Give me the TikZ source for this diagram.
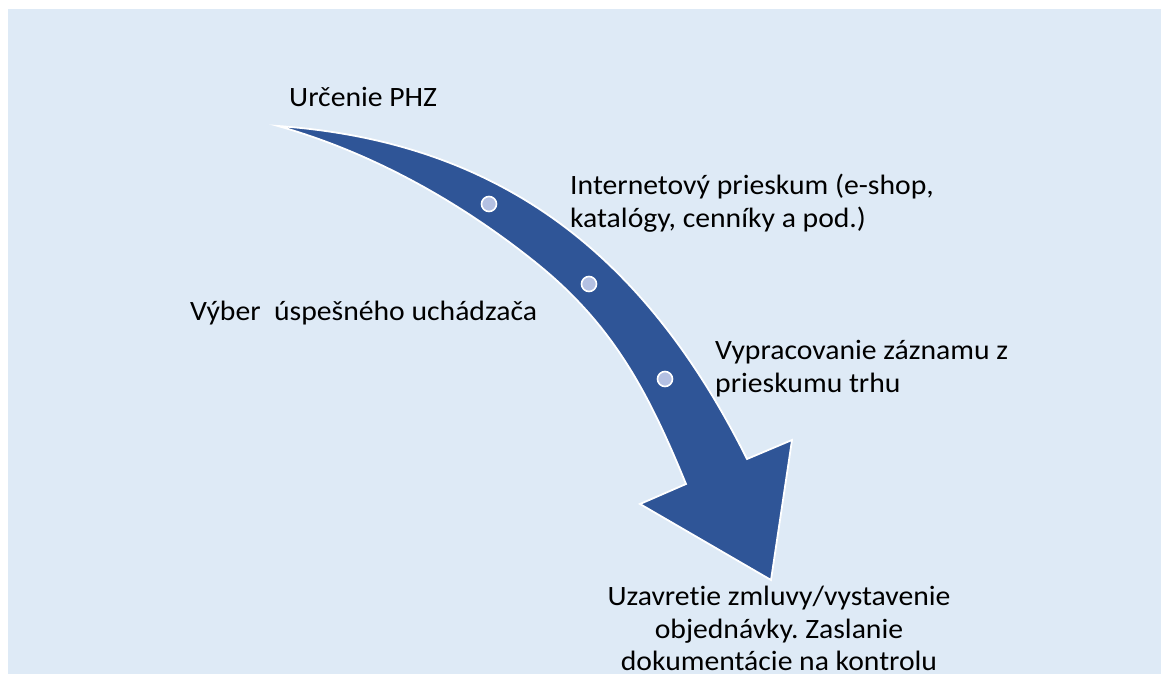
\documentclass[tikz,border=0pt]{standalone}
\usepackage{fontspec}
\setmainfont{Carlito}[Ligatures=NoCommon,FakeStretch=1.06]
\definecolor{bgblue}{HTML}{DEEAF6}
\definecolor{arrowblue}{HTML}{2F5597}
\definecolor{dotfill}{RGB}{180,192,226}
\begin{document}
\frenchspacing
\begin{tikzpicture}[x=1pt,y=-1pt,
  lbl/.style={inner sep=0pt,font=\fontsize{28}{33}\selectfont,text=black},
  dot/.style={circle,fill=dotfill,draw=white,line width=1.6pt,minimum size=15pt,inner sep=0pt}]
\useasboundingbox (0,0) rectangle (1161,674);
\fill[bgblue] (8,9) rectangle (1161,674);
% arrow
\coordinate (T) at (278,126);
\coordinate (RN) at (747,459);
\coordinate (RH) at (792,440);
\coordinate (TIP) at (771,580);
\coordinate (LH) at (640,504);
\coordinate (LN) at (686,484);
\coordinate (M) at (535,262);
\filldraw[fill=arrowblue,draw=white,line width=1.8pt,line join=miter]
  (T) .. controls (505,142) and (647,259) .. (RN) -- (RH) -- (TIP) -- (LH) -- (LN)
  .. controls (648,391.5) and (613,324.5) .. (M)
  .. controls (459.4,201.4) and (371.1,152.2) .. (T) -- cycle;
\node[dot] (d1) at (489,204) {};
\node[dot] (d2) at (589,284) {};
\node[dot] (d3) at (665,379) {};
% labels
\node[lbl,anchor=base west] (t1) at (289,107) {Určenie PHZ};
\node[lbl,anchor=base west] (t2a) at (570,194) {Internetový prieskum (e-shop,};
\node[lbl,anchor=base west] (t2b) at (570,227) {katalógy, cenníky a pod.)};
\node[lbl,anchor=base west] (t3) at (190,320) {Výber\ \ úspešného uchádzača};
\node[lbl,anchor=base west] (t4a) at (715,359) {Vypracovanie záznamu z};
\node[lbl,anchor=base west] (t4b) at (715,392) {prieskumu trhu};
\node[lbl,anchor=base] (t5a) at (779,605) {Uzavretie zmluvy/vystavenie};
\node[lbl,anchor=base] (t5b) at (779,638) {objednávky. Zaslanie};
\node[lbl,anchor=base] (t5c) at (779,670) {dokumentácie na kontrolu};
\end{tikzpicture}
\end{document}
